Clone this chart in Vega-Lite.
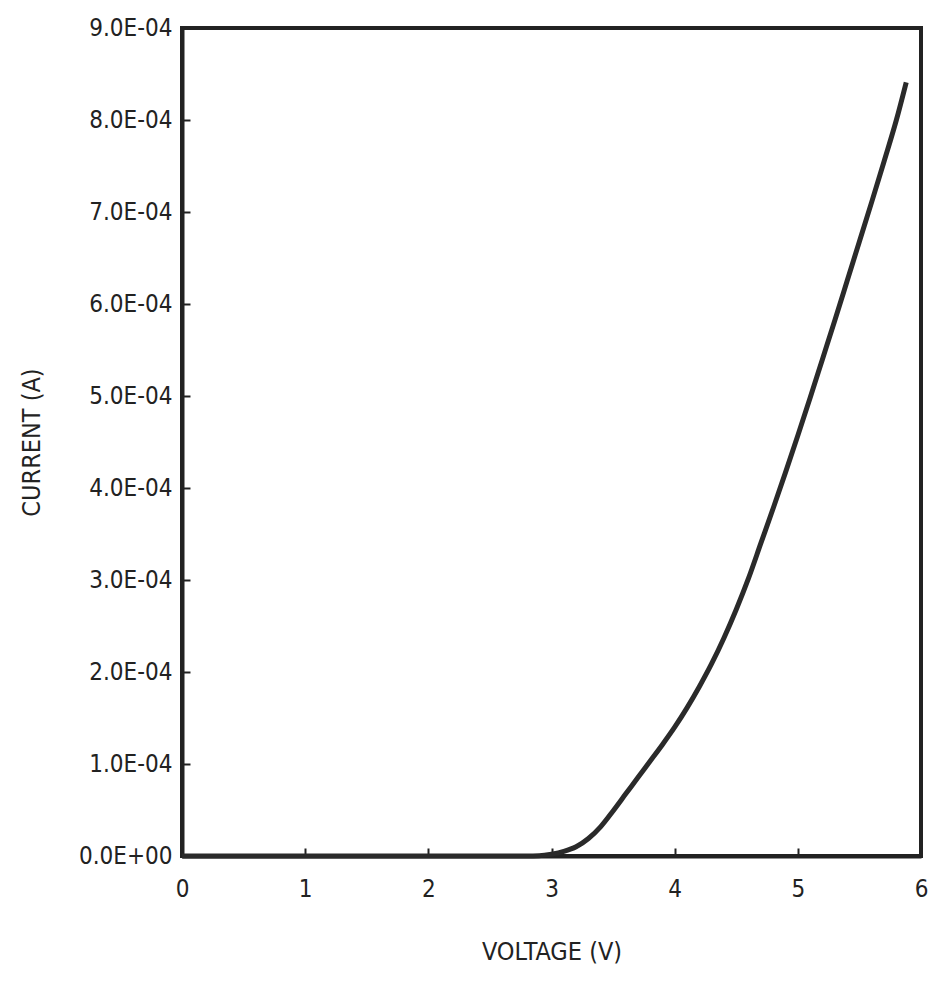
{
  "$schema": "https://vega.github.io/schema/vega-lite/v6.json",
  "autosize": "none",
  "padding": {"left": 182, "top": 28, "right": 15, "bottom": 129},
  "width": 739,
  "height": 828,
  "background": "white",
  "config": {
    "font": "DejaVu Sans Condensed",
    "view": {"stroke": "#222", "strokeWidth": 4},
    "axis": {
      "labelFont": "DejaVu Sans Condensed",
      "titleFont": "DejaVu Sans Condensed",
      "labelFontSize": 24,
      "titleFontSize": 25,
      "labelColor": "#222",
      "titleColor": "#222",
      "titleFontWeight": "normal",
      "grid": false,
      "domainColor": "#222",
      "domainWidth": 4,
      "tickColor": "#222",
      "tickWidth": 2,
      "tickSize": -8,
      "labelFlush": false
    }
  },
  "data": {
    "values": [
      {"v": 0.0, "i": 0},
      {"v": 0.5, "i": 0},
      {"v": 1.0, "i": 0},
      {"v": 1.5, "i": 0},
      {"v": 2.0, "i": 0},
      {"v": 2.5, "i": 0},
      {"v": 2.8, "i": 0},
      {"v": 2.9, "i": 0.0000003},
      {"v": 3.0, "i": 0.000002},
      {"v": 3.1, "i": 0.000005},
      {"v": 3.2, "i": 0.00001},
      {"v": 3.3, "i": 0.000019},
      {"v": 3.4, "i": 0.000032},
      {"v": 3.5, "i": 0.000049},
      {"v": 3.6, "i": 0.000067},
      {"v": 3.7, "i": 0.000085},
      {"v": 3.8, "i": 0.000103},
      {"v": 3.9, "i": 0.000121},
      {"v": 4.0, "i": 0.00014},
      {"v": 4.1, "i": 0.000161},
      {"v": 4.2, "i": 0.000184},
      {"v": 4.3, "i": 0.000209},
      {"v": 4.4, "i": 0.000237},
      {"v": 4.5, "i": 0.000268},
      {"v": 4.6, "i": 0.000302},
      {"v": 4.7, "i": 0.00034},
      {"v": 4.8, "i": 0.000378},
      {"v": 4.9, "i": 0.000417},
      {"v": 5.0, "i": 0.000457},
      {"v": 5.1, "i": 0.000498},
      {"v": 5.2, "i": 0.00054},
      {"v": 5.3, "i": 0.000582},
      {"v": 5.4, "i": 0.000625},
      {"v": 5.5, "i": 0.000668},
      {"v": 5.6, "i": 0.000711},
      {"v": 5.7, "i": 0.000755},
      {"v": 5.8, "i": 0.0008},
      {"v": 5.88, "i": 0.000841}
    ]
  },
  "mark": {"type": "line", "color": "#2a2a2a", "strokeWidth": 5, "interpolate": "monotone", "clip": false},
  "encoding": {
    "x": {
      "field": "v",
      "type": "quantitative",
      "title": "VOLTAGE (V)",
      "scale": {"domain": [0, 6], "nice": false, "zero": false},
      "axis": {"values": [0, 1, 2, 3, 4, 5, 6], "format": "d", "labelPadding": 29, "titlePadding": 38}
    },
    "y": {
      "field": "i",
      "type": "quantitative",
      "title": "CURRENT (A)",
      "scale": {"domain": [0, 0.0009], "nice": false},
      "axis": {
        "values": [0, 0.0001, 0.0002, 0.0003, 0.0004, 0.0005, 0.0006, 0.0007, 0.0008, 0.0009],
        "labelExpr": "replace(replace(format(datum.value, '.1e'), 'e-', 'E-0'), 'e+', 'E+0')",
        "labelPadding": 18,
        "titlePadding": 34
      }
    }
  }
}
